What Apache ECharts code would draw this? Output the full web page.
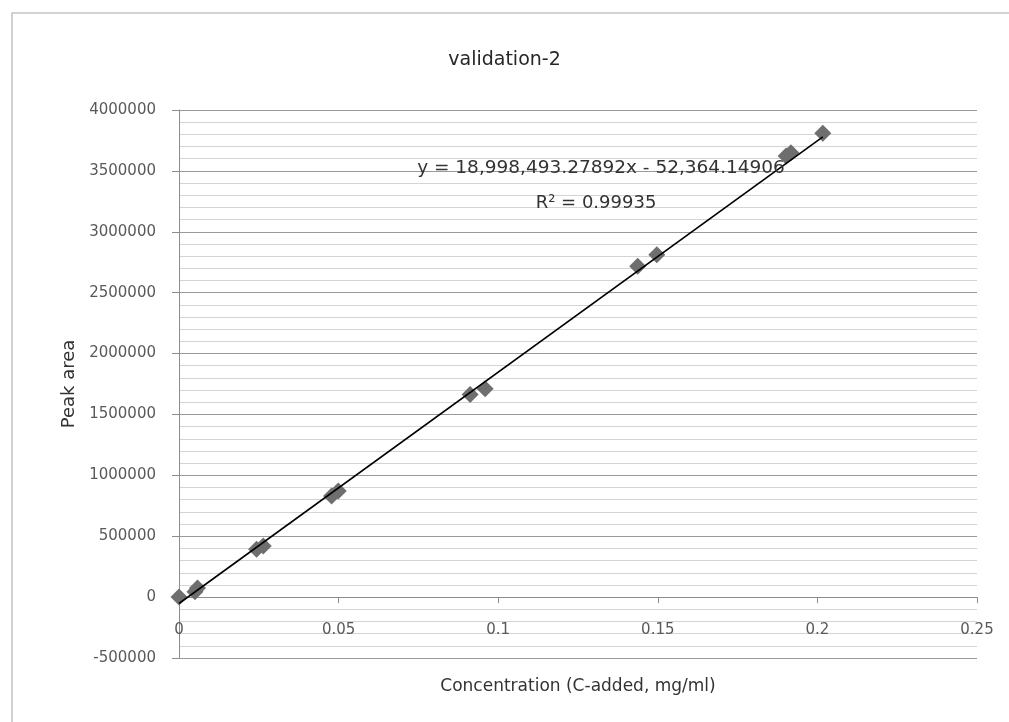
<!DOCTYPE html>
<html><head><meta charset="utf-8">
<script src="https://cdn.jsdelivr.net/npm/echarts@6/dist/echarts.min.js"></script>
<style>html,body{margin:0;padding:0;background:#fff}#c{width:1009px;height:722px}</style>
</head><body><div id="c"></div>
<script>
// Data
const concentration = [0, 0.0050, 0.0058, 0.0243, 0.0264, 0.0478, 0.0499, 0.0912, 0.0959, 0.1437, 0.1497, 0.1902, 0.1917, 0.2017];
const peakArea      = [0, 45000, 75000, 393000, 420000, 830000, 871000, 1664000, 1711000, 2716000, 2811000, 3623000, 3648000, 3809000];
// Linear trendline as printed on the chart
const slope = 18998493.27892;
const intercept = -52364.14906;
const equationText = 'y = 18,998,493.27892x - 52,364.14906';
const r2Text = 'R\u00B2 = 0.99935';
const titleText = 'validation-2';
const xName = 'Concentration (C-added, mg/ml)';
const yName = 'Peak area';
const xRange = [0, 0.25, 0.05];
const yRange = [-500000, 4000000, 500000];

const points = concentration.map((x, i) => [x, peakArea[i]]);
const xMin = Math.min(...concentration), xMax = Math.max(...concentration);
const trend = [[xMin, slope * xMin + intercept], [xMax, slope * xMax + intercept]];

const FONT = '"DejaVu Sans", Verdana, sans-serif';
const GRID_TOP = 110, GRID_BOTTOM = 64, H = 722;
// x axis crosses the y axis at 0: shift it up from the grid bottom by the height of the 0..min band
const plotH = H - GRID_TOP - GRID_BOTTOM;
const zeroOffset = -plotH * (0 - yRange[0]) / (yRange[1] - yRange[0]);

const chart = echarts.init(document.getElementById('c'));
chart.setOption({
  animation: false,
  backgroundColor: '#fff',
  title: {
    text: titleText, left: 'center', top: 51, padding: 0,
    textStyle: { fontFamily: FONT, fontSize: 19, fontWeight: 'normal', color: '#262626' }
  },
  grid: { left: 179, right: 32, top: GRID_TOP, bottom: GRID_BOTTOM, containLabel: false, outerBoundsMode: 'none' },
  xAxis: {
    type: 'value', min: xRange[0], max: xRange[1], interval: xRange[2],
    position: 'bottom', offset: zeroOffset,
    name: xName, nameLocation: 'middle', nameGap: 81,
    nameTextStyle: { fontFamily: FONT, fontSize: 17, color: '#333' },
    axisLine: { show: true, onZero: false, lineStyle: { color: '#8c8c8c', width: 1 } },
    axisTick: { show: true, length: 6, lineStyle: { color: '#8c8c8c' } },
    axisLabel: { margin: 25, fontFamily: FONT, fontSize: 15, color: '#595959', formatter: v => String(+v.toFixed(4)) },
    splitLine: { show: false }
  },
  yAxis: {
    type: 'value', min: yRange[0], max: yRange[1], interval: yRange[2],
    name: yName, nameLocation: 'middle', nameGap: 101, nameRotate: 90,
    nameTextStyle: { fontFamily: FONT, fontSize: 18, color: '#333' },
    axisLine: { show: true, onZero: false, lineStyle: { color: '#8c8c8c', width: 1 } },
    axisTick: { show: true, length: 7, lineStyle: { color: '#8c8c8c' } },
    axisLabel: { margin: 23, fontFamily: FONT, fontSize: 15, color: '#595959', formatter: v => String(Math.round(v)) },
    splitLine: { show: true, lineStyle: { color: '#9a9a9a', width: 1 } },
    minorTick: { show: false, splitNumber: 5 },
    minorSplitLine: { show: true, lineStyle: { color: '#d4d4d4', width: 1 } }
  },
  series: [
    {
      type: 'line', data: trend, showSymbol: false, symbol: 'none', z: 3,
      lineStyle: { color: '#000', width: 1.6 }, silent: true
    },
    {
      type: 'scatter', data: points, symbol: 'diamond', symbolSize: 17, z: 2,
      itemStyle: { color: '#6e6e6e', opacity: 1 }
    }
  ],
  graphic: [
    { type: 'rect', silent: true, shape: { x: 12, y: 13, width: 1000, height: 720 },
      style: { fill: 'none', stroke: '#c4c4c4', lineWidth: 1.5 } },
    { type: 'text', x: 601, y: 168, z: 10,
      style: { text: equationText, font: '18.5px ' + FONT, fill: '#333', align: 'center', verticalAlign: 'middle' } },
    { type: 'text', x: 596, y: 203, z: 10,
      style: { text: r2Text, font: '18px ' + FONT, fill: '#333', align: 'center', verticalAlign: 'middle' } }
  ]
});
</script>
</body></html>
